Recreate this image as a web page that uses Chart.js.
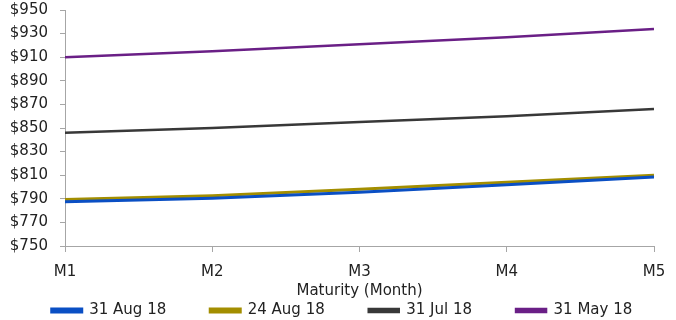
<!DOCTYPE html>
<html lang="en">
<head>
    <meta charset="UTF-8">
    <title>Futures curve</title>
    <script src="https://cdn.jsdelivr.net/npm/chart.js"></script>
    <style>
        html, body { margin: 0; padding: 0; background: #fff; }
        #wrap { width: 676px; height: 320px; }
    </style>
</head>
<body>
    <div id="wrap">
        <canvas id="myChart" width="676" height="320"></canvas>
    </div>
<script>
    // values
    const months = ["M1", "M2", "M3", "M4", "M5"];
    const aug31 = [787.5, 790.5, 795.5, 802, 808.5];
    const aug24 = [789.5, 792.5, 798, 804, 810];
    const jul31 = [846, 850, 855, 860, 866];
    const may31 = [910, 915, 921, 927, 934];

    const font = { family: "'DejaVu Sans', sans-serif", size: 15 };
    const axisGrey = "#a6a6a6";

    function series(label, data, color, width) {
      return {
        label: label,
        data: data,
        borderColor: color,
        backgroundColor: color,
        borderWidth: width,
        pointRadius: 0,
        tension: 0,
      };
    }

    // legend sits tight under the axis title, so pull it up after layout
    const legendNudge = {
      id: "legendNudge",
      afterLayout(chart) {
        const lg = chart.legend;
        lg.top -= 41; lg.bottom -= 41;
        lg.left += 4; lg.right += 4;
      },
    };

    new Chart(document.getElementById("myChart"), {
      type: "line",
      data: {
        labels: months,
        datasets: [
          series("31 Aug 18", aug31, "#0a4fc4", 3),
          series("24 Aug 18", aug24, "#a38e00", 3),
          series("31 Jul 18", jul31, "#383838", 2.5),
          series("31 May 18", may31, "#6a1f86", 2.5),
        ],
      },
      options: {
        responsive: false,
        animation: false,
        layout: { padding: { top: 0, right: 0, left: 0, bottom: -49 } },
        scales: {
          x: {
            offset: false,
            afterFit: (scale) => { scale.paddingRight = 22; scale.height = 54; },
            grid: { display: true, drawOnChartArea: false, drawTicks: true, tickLength: 6, color: axisGrey },
            border: { color: axisGrey, width: 1 },
            ticks: { color: "#222", font: font, padding: 11, maxRotation: 0 },
            title: { display: true, text: "Maturity (Month)", color: "#222", font: font, padding: { top: 0, bottom: 0 } },
          },
          y: {
            min: 750,
            max: 950,
            afterFit: (scale) => { scale.width = 65; scale.paddingTop = 10; },
            grid: { display: true, drawOnChartArea: false, drawTicks: true, tickLength: 5, color: axisGrey },
            border: { color: axisGrey, width: 1 },
            ticks: {
              stepSize: 20,
              autoSkip: false,
              color: "#222",
              font: font,
              padding: 12,
              callback: (v) => "$" + v,
            },
          },
        },
        plugins: {
          legend: {
            position: "bottom",
            labels: {
              color: "#222",
              font: font,
              boxWidth: 30,
              boxHeight: 3,
              padding: 44,
            },
          },
          tooltip: { enabled: false },
        },
      },
      plugins: [legendNudge],
    });
</script>
</body>
</html>
